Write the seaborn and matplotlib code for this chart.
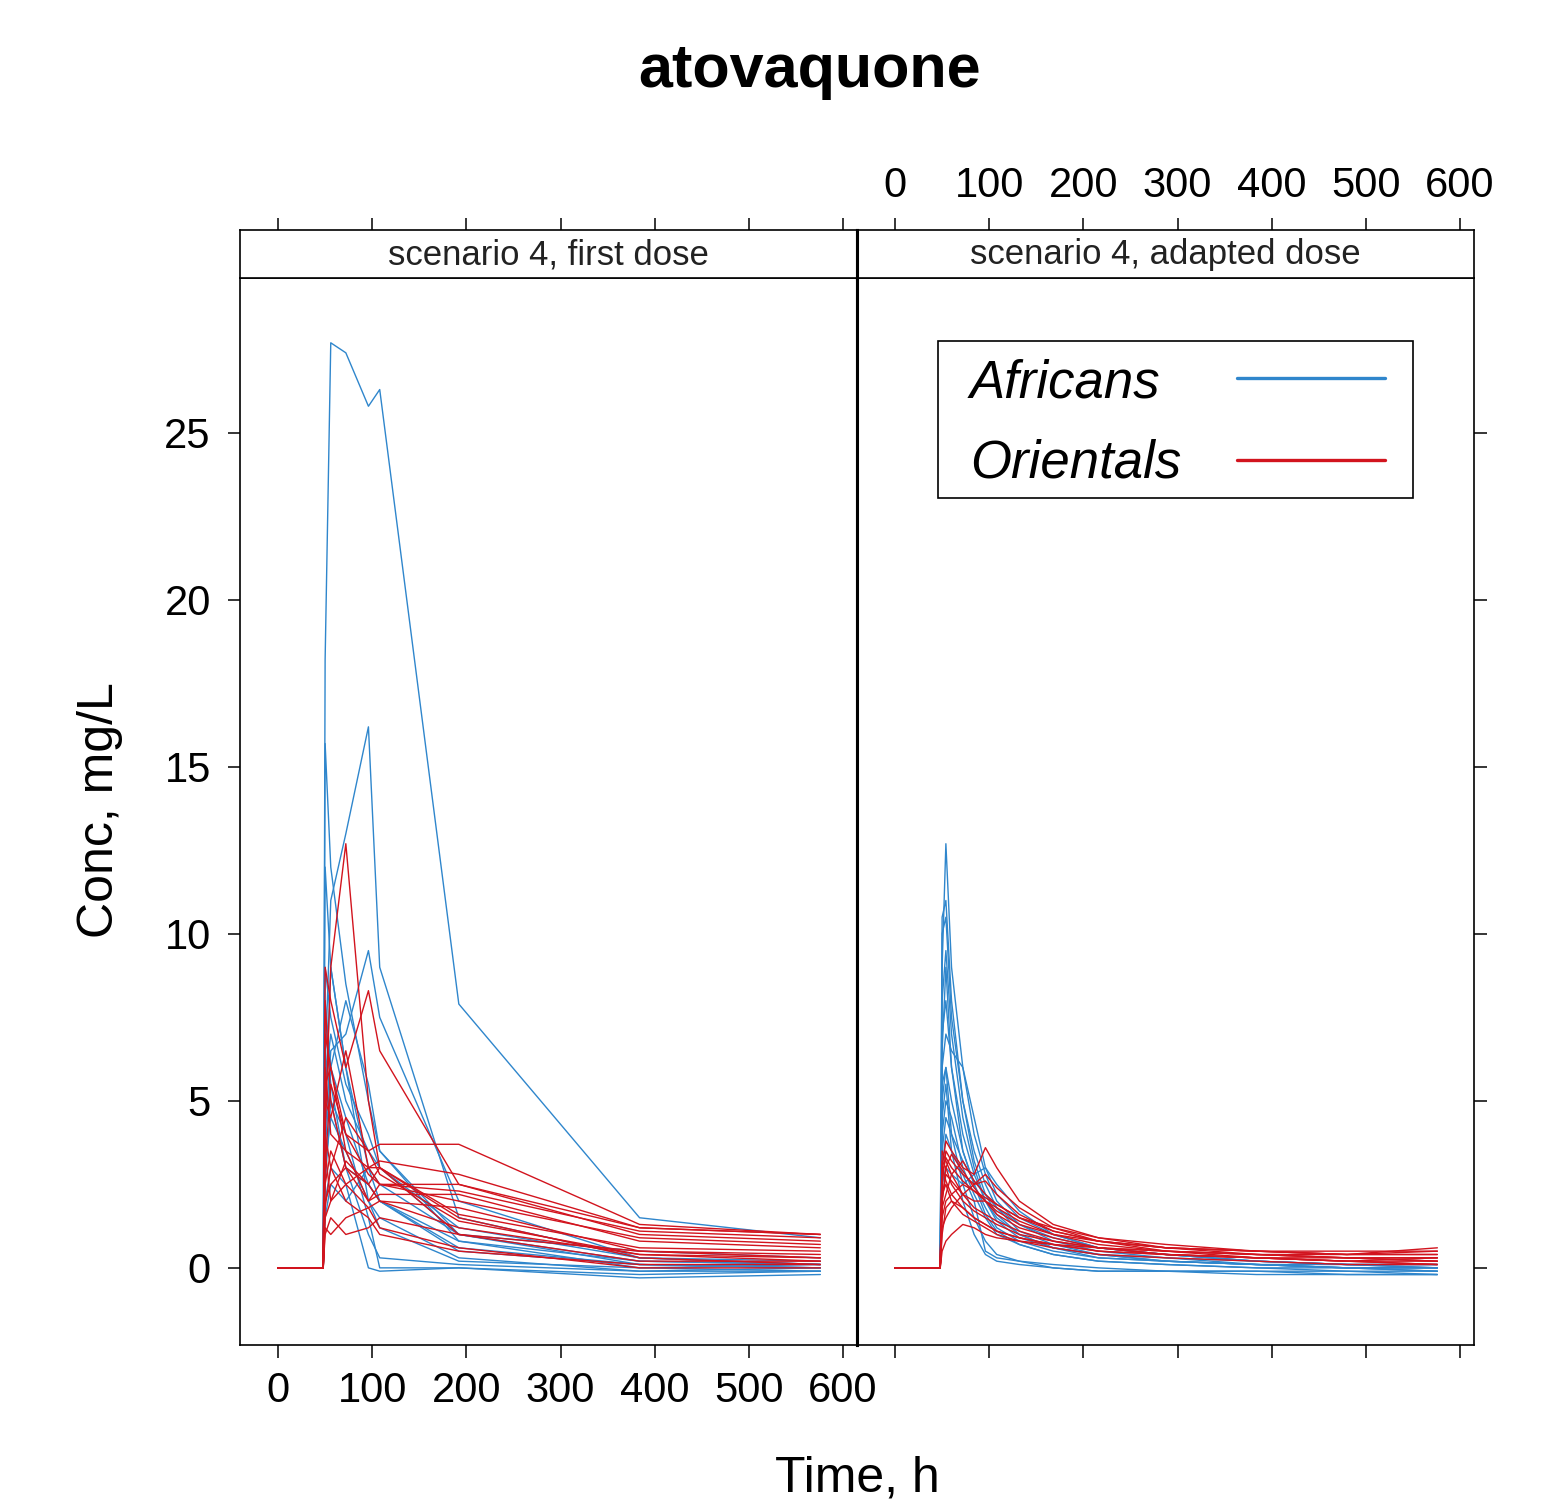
import numpy as np
import pandas as pd
import matplotlib
matplotlib.use("Agg")
import matplotlib.pyplot as plt
import seaborn as sns
from matplotlib.lines import Line2D
from matplotlib.patches import Rectangle

# sampling times (h)
times_first = [0, 48, 50, 56, 72, 96, 108, 192, 384, 576]
times_adapted = [0, 48, 50, 54, 60, 72, 84, 96, 108, 132, 168, 216, 288, 384, 480, 576]

# scenario 4, first dose - concentrations (mg/L), one list per subject
first_africans = [
    [0, 0, 18.2, 27.7, 27.4, 25.8, 26.3, 7.9, 1.5, 0.9],
    [0, 0, 15.7, 12.0, 8.5, 5.0, 3.5, 1.0, 0.2, 0.1],
    [0, 0, 6.0, 11.0, 13.0, 16.2, 9.0, 1.5, 0.3, 0.1],
    [0, 0, 4.0, 6.5, 7.0, 9.5, 7.5, 2.0, 0.3, 0.1],
    [0, 0, 12.0, 9.0, 6.0, 3.0, 2.0, 0.5, 0.1, 0.0],
    [0, 0, 8.0, 6.0, 4.5, 2.5, 2.0, 0.6, 0.1, 0.0],
    [0, 0, 5.5, 7.0, 5.0, 3.5, 3.0, 1.2, 0.3, 0.2],
    [0, 0, 3.0, 4.5, 3.5, 2.0, 1.5, 0.3, -0.1, 0.0],
    [0, 0, 2.0, 3.0, 2.5, 0.0, -0.1, 0.0, -0.2, -0.1],
    [0, 0, 6.5, 5.0, 4.0, 1.5, 0.0, 0.0, -0.3, -0.2],
    [0, 0, 1.5, 2.5, 2.0, 3.0, 2.5, 1.0, 0.5, 0.3],
    [0, 0, 4.5, 9.0, 6.0, 2.0, 1.2, 0.2, 0.0, 0.1],
    [0, 0, 9.0, 7.5, 5.5, 4.0, 3.0, 1.0, 0.1, 0.0],
    [0, 0, 3.5, 6.0, 8.0, 5.5, 3.5, 0.8, 0.0, -0.1],
    [0, 0, 2.5, 5.0, 3.0, 2.5, 2.0, 0.8, 0.2, 0.1],
    [0, 0, 7.5, 5.5, 3.0, 1.0, 0.3, 0.1, -0.1, -0.1],
]
first_orientals = [
    [0, 0, 4.0, 9.0, 12.7, 5.0, 3.0, 1.0, 0.5, 0.3],
    [0, 0, 9.0, 8.0, 6.0, 8.3, 6.5, 2.5, 1.2, 1.0],
    [0, 0, 7.0, 6.0, 4.0, 3.5, 3.7, 3.7, 1.3, 1.0],
    [0, 0, 5.0, 4.5, 6.5, 3.0, 3.2, 2.8, 1.2, 1.0],
    [0, 0, 3.0, 5.5, 4.0, 2.8, 2.5, 2.5, 1.0, 0.8],
    [0, 0, 2.0, 2.5, 3.0, 2.0, 2.2, 2.2, 0.8, 0.6],
    [0, 0, 1.2, 1.0, 1.5, 1.8, 2.0, 1.8, 0.5, 0.4],
    [0, 0, 1.0, 1.5, 1.0, 1.2, 1.5, 1.0, 0.2, 0.2],
    [0, 0, 6.0, 4.0, 3.5, 3.0, 3.0, 1.5, 0.3, 0.1],
    [0, 0, 2.5, 3.5, 2.5, 1.8, 1.2, 0.6, 0.0, 0.0],
    [0, 0, 4.0, 3.0, 2.0, 1.5, 1.0, 0.5, 0.1, 0.1],
    [0, 0, 1.5, 2.0, 2.5, 3.0, 2.5, 2.3, 1.1, 0.9],
    [0, 0, 5.5, 6.0, 3.5, 2.0, 2.5, 2.0, 0.9, 0.7],
    [0, 0, 8.0, 5.0, 3.0, 2.5, 2.0, 1.2, 0.4, 0.3],
    [0, 0, 3.5, 2.0, 3.2, 2.5, 3.0, 1.6, 0.6, 0.5],
    [0, 0, 1.8, 3.0, 4.5, 3.5, 2.8, 1.4, 0.4, 0.2],
]

# scenario 4, adapted dose
adapted_africans = [
    [0, 0, 9.0, 12.7, 9.0, 6.0, 4.0, 2.8, 2.0, 1.3, 0.8, 0.5, 0.3, 0.1, 0.0, 0.0],
    [0, 0, 10.5, 11.0, 8.0, 5.0, 3.5, 2.5, 1.8, 1.1, 0.7, 0.4, 0.2, 0.1, 0.0, -0.1],
    [0, 0, 8.0, 9.5, 7.0, 4.5, 3.0, 2.0, 1.5, 1.0, 0.6, 0.4, 0.2, 0.1, 0.1, 0.0],
    [0, 0, 6.0, 7.0, 6.5, 6.0, 4.5, 3.0, 2.2, 1.5, 1.0, 0.6, 0.4, 0.2, 0.1, 0.1],
    [0, 0, 5.0, 6.0, 5.0, 3.5, 2.5, 1.8, 1.2, 0.8, 0.5, 0.3, 0.2, 0.1, 0.0, 0.0],
    [0, 0, 4.0, 5.0, 4.5, 3.0, 2.2, 1.5, 1.0, 0.7, 0.4, 0.2, 0.1, 0.0, -0.1, -0.1],
    [0, 0, 3.0, 4.0, 3.5, 2.8, 2.0, 0.5, 0.3, 0.2, 0.0, -0.1, -0.1, -0.1, -0.1, -0.2],
    [0, 0, 7.0, 8.0, 6.0, 4.0, 2.8, 2.0, 1.4, 0.9, 0.6, 0.4, 0.3, 0.2, 0.1, 0.1],
    [0, 0, 2.5, 3.0, 2.8, 2.5, 2.8, 3.0, 2.5, 1.7, 1.0, 0.6, 0.4, 0.2, 0.1, 0.0],
    [0, 0, 5.5, 6.0, 4.0, 2.5, 1.5, 0.8, 0.4, 0.2, 0.1, 0.0, -0.1, -0.1, -0.2, -0.2],
    [0, 0, 10.0, 10.5, 7.5, 5.0, 3.2, 2.2, 1.6, 1.0, 0.6, 0.3, 0.2, 0.1, 0.0, -0.1],
    [0, 0, 6.5, 9.0, 6.0, 3.5, 2.5, 1.6, 1.1, 0.7, 0.4, 0.2, 0.1, 0.0, 0.0, 0.0],
    [0, 0, 3.5, 4.5, 4.0, 3.2, 2.6, 2.2, 1.8, 1.3, 0.9, 0.6, 0.4, 0.2, 0.1, 0.1],
    [0, 0, 4.5, 5.5, 3.5, 2.0, 1.0, 0.4, 0.2, 0.1, 0.0, -0.1, -0.1, -0.2, -0.2, -0.2],
]
adapted_orientals = [
    [0, 0, 3.0, 3.8, 3.5, 3.0, 2.8, 3.6, 3.0, 2.0, 1.3, 0.9, 0.6, 0.5, 0.4, 0.5],
    [0, 0, 2.5, 3.5, 3.2, 2.8, 2.5, 2.6, 2.2, 1.6, 1.1, 0.8, 0.6, 0.4, 0.4, 0.6],
    [0, 0, 2.0, 2.8, 2.6, 2.2, 2.0, 2.0, 1.8, 1.4, 1.0, 0.7, 0.5, 0.4, 0.3, 0.3],
    [0, 0, 1.5, 2.0, 2.2, 2.5, 2.3, 2.0, 1.6, 1.2, 0.9, 0.6, 0.5, 0.3, 0.3, 0.2],
    [0, 0, 0.5, 0.8, 1.0, 1.3, 1.2, 1.0, 0.9, 0.8, 0.7, 0.6, 0.5, 0.4, 0.3, 0.3],
    [0, 0, 3.2, 3.0, 2.5, 2.0, 1.7, 1.5, 1.3, 1.0, 0.8, 0.6, 0.4, 0.3, 0.2, 0.2],
    [0, 0, 1.0, 1.8, 2.0, 1.8, 1.5, 1.3, 1.1, 0.9, 0.7, 0.5, 0.4, 0.3, 0.2, 0.1],
    [0, 0, 2.2, 2.5, 2.0, 1.6, 1.4, 1.2, 1.0, 0.8, 0.6, 0.4, 0.3, 0.2, 0.1, 0.1],
    [0, 0, 1.8, 2.2, 2.8, 3.2, 2.6, 2.2, 1.9, 1.5, 1.1, 0.8, 0.6, 0.5, 0.4, 0.4],
    [0, 0, 3.5, 3.2, 2.8, 2.2, 1.8, 1.6, 1.4, 1.1, 0.8, 0.6, 0.4, 0.3, 0.2, 0.3],
    [0, 0, 2.8, 3.3, 3.0, 2.6, 2.3, 2.1, 1.9, 1.5, 1.2, 0.9, 0.7, 0.5, 0.5, 0.5],
    [0, 0, 1.2, 1.5, 1.8, 2.2, 2.5, 2.8, 2.4, 1.8, 1.2, 0.8, 0.5, 0.4, 0.3, 0.2],
    [0, 0, 3.0, 2.6, 2.2, 1.8, 1.5, 1.3, 1.1, 0.9, 0.7, 0.5, 0.4, 0.3, 0.2, 0.1],
    [0, 0, 2.0, 3.0, 3.4, 2.9, 2.4, 2.0, 1.7, 1.3, 1.0, 0.8, 0.6, 0.5, 0.4, 0.4],
]

panel_titles = ["scenario 4, first dose", "scenario 4, adapted dose"]
groups = ["Africans", "Orientals"]
colors = {"Africans": "#2f86cc", "Orientals": "#d2141e"}


def to_long(times, curves, group):
    rows = []
    for k, c in enumerate(curves):
        for t, v in zip(times, c):
            rows.append((t, v, group + str(k), group))
    return pd.DataFrame(rows, columns=["time", "conc", "subject", "group"])


df_first = pd.concat([to_long(times_first, first_africans, "Africans"),
                      to_long(times_first, first_orientals, "Orientals")])
df_adapted = pd.concat([to_long(times_adapted, adapted_africans, "Africans"),
                        to_long(times_adapted, adapted_orientals, "Orientals")])

sns.set_theme(style="ticks")
plt.rcParams["font.family"] = ["Liberation Sans", "DejaVu Sans"]
plt.rcParams["text.color"] = "black"

W, H = 1552, 1504
fig = plt.figure(figsize=(W / 100, H / 100), dpi=100)

xlim = (-40.4, 614.9)
ylim = (-2.31, 29.64)
px0, pw = 240, 617
py_top, py_bot, strip_top = 278, 1345, 230

axes = []
for i, d in enumerate([df_first, df_adapted]):
    left = (px0 + i * pw) / W
    ax = fig.add_axes([left, 1 - py_bot / H, pw / W, (py_bot - py_top) / H])
    sns.lineplot(data=d, x="time", y="conc", hue="group", units="subject",
                 estimator=None, palette=colors, hue_order=groups,
                 linewidth=1.0, legend=False, sort=False, ax=ax)
    ax.set_xlim(xlim)
    ax.set_ylim(ylim)
    ax.set_xticks(range(0, 601, 100))
    ax.set_yticks(range(0, 26, 5))
    ax.set_xlabel("")
    ax.set_ylabel("")
    for s in ax.spines.values():
        s.set_linewidth(1.2)
        s.set_color("black")
    ax.tick_params(axis="both", direction="out", length=9, width=1.1,
                   labelsize=30, colors="black")
    if i == 0:
        ax.spines["right"].set_linewidth(2.2)
        ax.tick_params(axis="x", bottom=True, labelbottom=True, pad=10)
        ax.tick_params(axis="y", left=True, labelleft=True, right=False, pad=12)
    else:
        ax.spines["left"].set_linewidth(2.2)
        ax.tick_params(axis="x", bottom=True, labelbottom=False)
        ax.tick_params(axis="y", left=False, labelleft=False,
                       right=True, labelright=False)
    axes.append(ax)

    st = fig.add_axes([left, 1 - py_top / H, pw / W, (py_top - strip_top) / H])
    st.set_xlim(xlim)
    st.set_xticks(range(0, 601, 100))
    st.set_yticks([])
    for s in st.spines.values():
        s.set_linewidth(1.2)
        s.set_color("black")
    st.spines["right" if i == 0 else "left"].set_linewidth(2.2)
    st.tick_params(axis="x", direction="out", length=9, width=1.1,
                   labelsize=30, bottom=False, labelbottom=False,
                   top=True, labeltop=(i == 1), pad=8, colors="black")
    st.text(0.5, 0.48, panel_titles[i], transform=st.transAxes,
            ha="center", va="center", fontsize=25, color="#222222")

# legend key, drawn in figure pixels as lattice's auto.key box
fig.patches.append(Rectangle((938 / W, 1 - 498 / H), 475 / W, 157 / H,
                             transform=fig.transFigure, fill=False,
                             edgecolor="black", linewidth=1.2))
for g, yt, yl in zip(groups, [383, 463], [378, 460]):
    fig.text(970 / W, 1 - yt / H, g, ha="left", va="center",
             fontsize=38, style="italic")
    fig.add_artist(Line2D([1237 / W, 1385 / W], [1 - yl / H, 1 - yl / H],
                          transform=fig.transFigure, color=colors[g], lw=2.4))

fig.text(810 / W, 1 - 72 / H, "atovaquone", ha="center", va="center",
         fontsize=44, fontweight="bold")
fig.text(857 / W, 1 - 1478 / H, "Time, h", ha="center", va="center", fontsize=36)
fig.text(100 / W, 1 - 810 / H, "Conc, mg/L", ha="center", va="center",
         fontsize=36, rotation=90)

fig.savefig("out.png", dpi=100, facecolor="white")
